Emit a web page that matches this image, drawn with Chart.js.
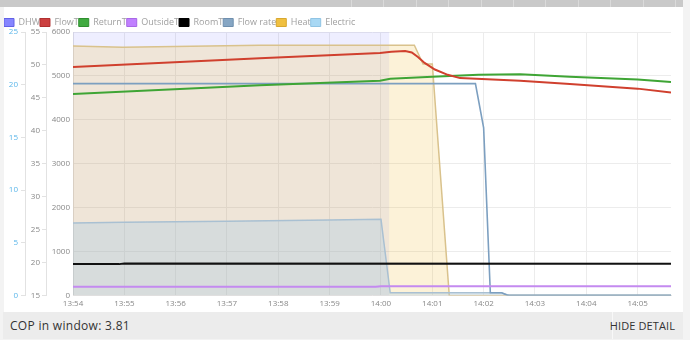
<!DOCTYPE html>
<html>
<head>
<meta charset="utf-8">
<script src="https://cdn.jsdelivr.net/npm/chart.js@4.4.1/dist/chart.umd.min.js"></script>
<style>
  body { margin: 0; width: 690px; height: 340px; background: #f3f3f3; font-family: "Open Sans", sans-serif; overflow: hidden; position: relative; }
  #topbar { position: absolute; left: 0; top: 0; width: 683px; height: 7px; background: #c9c9c9; }
  #topbar .sep { position: absolute; top: 0; width: 1px; height: 7px; background: #dadada; }
  #panel { position: absolute; left: 4px; top: 7px; width: 679px; height: 305px; background: #fff; }
  #footer { position: absolute; left: 3px; top: 312px; width: 680px; height: 27px; background: #ececec; color: #333; font-size: 12px; letter-spacing: 0.3px; }
  #cop { position: absolute; left: 7px; top: 5px; }
  #hide { position: absolute; right: 8px; top: 6px; font-size: 11px; letter-spacing: 0.1px; }
  #footer .div { position: absolute; left: 609px; top: 0; width: 1px; height: 27px; background: #f8f8f8; }
</style>
</head>
<body>
<div id="topbar"></div>
<div id="panel"><canvas id="myChart" width="679" height="305"></canvas></div>
<div id="footer"><span id="cop">COP in window: 3.81</span><div class="div"></div><span id="hide">HIDE DETAIL</span></div>
<script>
// time in minutes after 13:54
const dhwTime = [0, 6.16, 6.16, 11.65];
const dhwOn = [1, 1, 0, 0];

const flowTTime = [0, 3.64, 5.98, 6.2, 6.47, 6.6, 6.72, 6.85, 7.05, 7.3, 7.54, 8.71, 9.68, 11.0, 11.65];
const flowT = [49.7, 51.0, 51.8, 52.0, 52.1, 51.9, 51.2, 50.3, 49.3, 48.5, 48.0, 47.6, 47.1, 46.4, 45.8];

const returnTTime = [0, 3.64, 5.98, 6.18, 7.0, 7.9, 8.71, 9.68, 11.0, 11.65];
const returnT = [45.6, 46.9, 47.6, 47.9, 48.2, 48.5, 48.6, 48.2, 47.8, 47.4];

const outsideTTime = [0, 5.9, 6.0, 11.65];
const outsideT = [16.3, 16.3, 16.4, 16.4];

const roomTTime = [0, 0.9, 1.0, 11.65];
const roomT = [19.75, 19.75, 19.85, 19.8];

const flowRateTime = [0, 7.84, 8.0, 8.13, 8.35, 8.47, 11.65];
const flowRate = [20.1, 20.1, 15.9, 0.25, 0.25, 0, 0];

const heatTime = [0, 0.97, 3.64, 6.65, 6.82, 7.0, 7.33, 11.65];
const heat = [5680, 5650, 5700, 5700, 5270, 5270, 0, 0];

const elecTime = [0, 1, 3, 5, 6.0, 6.18, 8.35, 8.5, 11.65];
const elec = [1650, 1665, 1690, 1720, 1735, 60, 60, 0, 0];

const xTicks = ['13:54','13:55','13:56','13:57','13:58','13:59','14:00','14:01','14:02','14:03','14:04','14:05'];

function pts(times, vals) {
    return times.map((t, i) => ({x: t, y: vals[i]}));
}

const legendColors = [
    {fill: '#8585ff', stroke: '#6262e6'},
    {fill: '#cc4040', stroke: '#b03030'},
    {fill: '#40aa40', stroke: '#2f8f2f'},
    {fill: '#c080ff', stroke: '#a868e6'},
    {fill: '#000000', stroke: '#000000'},
    {fill: '#86a6c4', stroke: '#6f8fae'},
    {fill: '#f0c040', stroke: '#d8a830'},
    {fill: '#a8d8f4', stroke: '#90c4e4'},
];

const tickFont = {family: '"Open Sans", sans-serif', size: 8};
const gridCol = '#ececec';

// tweak legend height so the plot starts right under it
const legendGap = {
    id: 'legendGap',
    beforeInit(chart) {
        const origFit = chart.legend.fit;
        chart.legend.fit = function () {
            origFit.bind(chart.legend)();
            this.height += -5;
        };
    }
};

const ctx = document.getElementById('myChart');
new Chart(ctx, {
    type: 'line',
    data: {
        datasets: [
            {label: 'DHW', data: pts(dhwTime, dhwOn), yAxisID: 'dhw', borderWidth: 0, borderColor: 'rgba(0,0,0,0)',
             backgroundColor: 'rgba(0,0,255,0.066)', fill: 'origin', order: 4},
            {label: 'FlowT', data: pts(flowTTime, flowT), yAxisID: 'temp', borderColor: '#d0402e', borderWidth: 2, fill: false},
            {label: 'ReturnT', data: pts(returnTTime, returnT), yAxisID: 'temp', borderColor: '#3fa535', borderWidth: 2, fill: false},
            {label: 'OutsideT', data: pts(outsideTTime, outsideT), yAxisID: 'temp', borderColor: '#c48af0', borderWidth: 2, fill: false},
            {label: 'RoomT', data: pts(roomTTime, roomT), yAxisID: 'temp', borderColor: '#111111', borderWidth: 2, fill: false},
            {label: 'Flow rate', data: pts(flowRateTime, flowRate), yAxisID: 'flow', borderColor: '#7c9fc0', borderWidth: 1.6, fill: false},
            {label: 'Heat', data: pts(heatTime, heat), yAxisID: 'power', borderColor: '#d9c28c', borderWidth: 1.5,
             backgroundColor: 'rgba(240,190,60,0.2)', fill: 'origin', order: 3},
            {label: 'Electric', data: pts(elecTime, elec), yAxisID: 'power', borderColor: '#a9c0d2', borderWidth: 1.5,
             backgroundColor: 'rgba(160,200,230,0.3)', fill: 'origin', order: 2},
        ]
    },
    options: {
        responsive: false,
        animation: false,
        elements: {point: {radius: 0}, line: {tension: 0}},
        layout: {padding: {top: 11, right: 12, left: 0, bottom: -1}},
        plugins: {
            tooltip: {enabled: false},
            legend: {
                position: 'top',
                align: 'start',
                labels: {
                    boxWidth: 10,
                    boxHeight: 8,
                    padding: 0,
                    color: '#a0a0a0',
                    font: {family: '"Open Sans", sans-serif', size: 9},
                    generateLabels(chart) {
                        return chart.data.datasets.map((ds, i) => ({
                            text: ds.label,
                            fillStyle: legendColors[i].fill,
                            strokeStyle: legendColors[i].stroke,
                            lineWidth: 1,
                            fontColor: '#a0a0a0',
                            hidden: false,
                            datasetIndex: i
                        }));
                    }
                }
            }
        },
        scales: {
            x: {
                type: 'linear',
                min: 0,
                max: 11.65,
                ticks: {
                    stepSize: 1,
                    includeBounds: false,
                    autoSkip: false,
                    maxRotation: 0,
                    padding: 4,
                    color: '#888',
                    font: tickFont,
                    callback: (v) => xTicks[Math.round(v)]
                },
                grid: {color: gridCol, drawTicks: false},
                border: {color: '#e4e4e4'}
            },
            dhw: {display: false, min: 0, max: 1},
            power: {
                position: 'left',
                min: 0, max: 6000,
                ticks: {stepSize: 1000, color: '#888', font: tickFont, padding: 3, callback: (v) => String(v)},
                grid: {color: gridCol, drawTicks: false},
                border: {color: '#e4e4e4'},
                afterFit(scale) { scale.width = 27; }
            },
            temp: {
                position: 'left',
                min: 15, max: 55,
                ticks: {stepSize: 5, color: '#888', font: tickFont, padding: 2},
                grid: {drawOnChartArea: false, color: '#e2e2e2', tickLength: 4},
                border: {color: '#e2e2e2'},
                afterFit(scale) { scale.width = 21; }
            },
            flow: {
                position: 'left',
                min: 0, max: 25,
                ticks: {stepSize: 5, color: '#5ab6ea', font: tickFont, padding: 3},
                grid: {drawOnChartArea: false, color: '#e2e2e2', tickLength: 4},
                border: {color: '#e2e2e2'},
                afterFit(scale) { scale.width = 21; }
            }
        }
    },
    plugins: [legendGap]
});

// little column dividers in the grey strip at the top
const bar = document.getElementById('topbar');
for (let x = 351; x < 683; x += 32.4) {
    const s = document.createElement('div');
    s.className = 'sep';
    s.style.left = Math.round(x) + 'px';
    bar.appendChild(s);
}
</script>
</body>
</html>
